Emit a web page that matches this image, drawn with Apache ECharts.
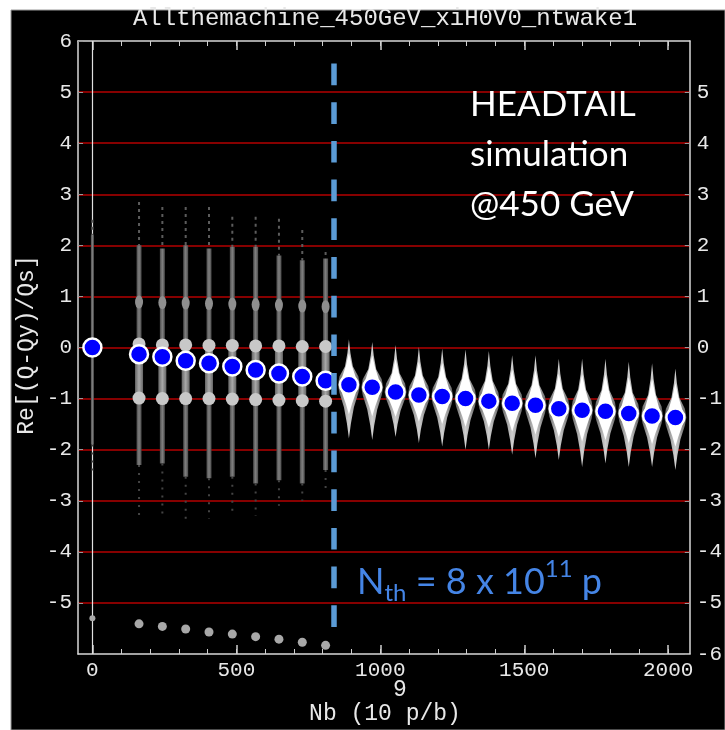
<!DOCTYPE html>
<html><head><meta charset="utf-8">
<script src="https://cdn.jsdelivr.net/npm/echarts@6/dist/echarts.min.js"></script>
<style>html,body{margin:0;padding:0;background:#fff}#c{width:725px;height:730px}</style>
</head><body><div id="c"></div>
<script>
// ---- data ----
const blueX = [0,162,243,324,405,486,567,648,729,810,891,972,1053,1134,1215,1296,1377,1458,1539,1620,1701,1782,1863,1944,2025];
const blueY = [0,-0.13,-0.18,-0.26,-0.31,-0.37,-0.44,-0.51,-0.57,-0.65,-0.73,-0.78,-0.87,-0.93,-0.96,-1.0,-1.05,-1.09,-1.13,-1.2,-1.23,-1.25,-1.29,-1.34,-1.37];

const streakX          = [0,162,243,324,405,486,567,648,729,810];
const streakFaintTop   = [2.5,2.85,2.75,2.75,2.75,2.56,2.56,2.52,2.3,1.87];
const streakDenseTop   = [2.2,2.0,1.94,2.0,1.94,1.97,1.97,1.8,1.71,1.74];
const streakDenseBot   = [-1.9,-2.3,-2.27,-2.53,-2.56,-2.53,-2.66,-2.6,-2.66,-2.4];
const streakFaintBot   = [-2.45,-3.35,-3.35,-3.4,-3.35,-3.3,-3.3,-3.1,-3.0,-2.8];

const blobX        = [162,243,324,405,486,567,648,729,810];
const blobUpper    = [0.89,0.88,0.87,0.86,0.85,0.84,0.83,0.81,0.8];
const blobZero     = [0.07,0.05,0.05,0.04,0.04,0.03,0.03,0.02,0.02];
const blobMinusOne = [-0.99,-1.0,-1.0,-1.0,-1.01,-1.02,-1.03,-1.04,-1.05];

const tailX = [0,162,243,324,405,486,567,648,729,810];
const tailY = [-5.3,-5.41,-5.46,-5.51,-5.57,-5.61,-5.66,-5.71,-5.77,-5.83];

const spX      = [891,972,1053,1134,1215,1296,1377,1458,1539,1620,1701,1782,1863,1944,2025];
const spTop    = [0.16,0.11,0.05,0.01,-0.02,-0.04,-0.07,-0.15,-0.15,-0.22,-0.22,-0.22,-0.28,-0.31,-0.41];
const spBottom = [-1.78,-1.81,-1.75,-1.87,-1.94,-2.0,-2.0,-2.1,-2.17,-2.2,-2.34,-2.27,-2.34,-2.34,-2.4];

const threshold = 840;
const xLabelTicks = [0,500,1000,1500,2000];
const xMinorTicks = [0,100,200,300,400,500,600,700,800,900,1000,1100,1200,1300,1400,1500,1600,1700,1800,1900,2000];

// ---- build ----
const streakData = streakX.map((x,i)=>[x,streakFaintTop[i],streakDenseTop[i],streakDenseBot[i],streakFaintBot[i]]);
const spData = spX.map((x,i)=>[x,spTop[i],spBottom[i],blueY[blueX.indexOf(x)]]);
const blueData = blueX.map((x,i)=>[x,blueY[i]]);
const tailData = tailX.map((x,i)=>[x,tailY[i]]);
const bandData = blobX.map((x,i)=>[x,blobZero[i],blobMinusOne[i]]);
const blobData = [];
blobX.forEach((x,i)=>{ blobData.push([x,blobZero[i]]); blobData.push([x,blobMinusOne[i]]); });
const bulgeData = blobX.map((x,i)=>[x,blobUpper[i]]);

const MONO = 'Liberation Mono';
const TXT = '#e8e8e8';

function renderStreak(params, api){
  const x = api.value(0);
  const a = api.coord([x, api.value(1)]), b = api.coord([x, api.value(2)]),
        c = api.coord([x, api.value(3)]), d = api.coord([x, api.value(4)]);
  const w = params.dataIndex === 0 ? 3 : 5;
  return {type:'group', children:[
    {type:'line', shape:{x1:a[0],y1:a[1],x2:b[0],y2:b[1]}, style:{stroke:'#5c5c5c', lineWidth:2, lineDash:[3,4]}},
    {type:'rect', shape:{x:b[0]-w/2, y:b[1], width:w, height:c[1]-b[1]},
     style:{fill:{type:'linear',x:0,y:0,x2:1,y2:0,colorStops:[{offset:0,color:'#4a4a4a'},{offset:0.5,color:'#808080'},{offset:1,color:'#4a4a4a'}]}}},
    {type:'line', shape:{x1:c[0],y1:c[1],x2:d[0],y2:d[1]}, style:{stroke:'#444', lineWidth:2, lineDash:[2,6]}}
  ]};
}
function renderBand(params, api){
  const x = api.value(0);
  const a = api.coord([x, api.value(1)]), b = api.coord([x, api.value(2)]);
  return {type:'rect', shape:{x:a[0]-4, y:a[1], width:8, height:b[1]-a[1]},
    style:{fill:{type:'linear',x:0,y:0,x2:1,y2:0,colorStops:[{offset:0,color:'#666'},{offset:0.5,color:'#a8a8a8'},{offset:1,color:'#666'}]}}};
}
function renderSpindle(params, api){
  const x = api.value(0);
  const t = api.coord([x, api.value(1)]), bt = api.coord([x, api.value(2)]), cc = api.coord([x, api.value(3)]);
  const cx = t[0], up = cc[1]-t[1], dn = bt[1]-cc[1], hw = 11;
  const half = [[0,t[1]],[1.5,t[1]+up*0.3],[4,t[1]+up*0.6],[hw-1.5,cc[1]-up*0.18],[hw,cc[1]],[hw-1.5,cc[1]+dn*0.15],[5,cc[1]+dn*0.42],[2,cc[1]+dn*0.72],[0,bt[1]]];
  const pts = half.map(p=>[cx+p[0],p[1]]).concat(half.slice(1,-1).reverse().map(p=>[cx-p[0],p[1]]));
  const ih = [[0,cc[1]-up*0.7],[3,cc[1]-up*0.42],[7.5,cc[1]-up*0.12],[8,cc[1]],[7.5,cc[1]+dn*0.12],[3,cc[1]+dn*0.36],[0,cc[1]+dn*0.55]];
  const ipts = ih.map(p=>[cx+p[0],p[1]]).concat(ih.slice(1,-1).reverse().map(p=>[cx-p[0],p[1]]));
  return {type:'group', children:[
    {type:'polygon', shape:{points:pts}, style:{fill:{type:'linear',x:0,y:0,x2:1,y2:0,colorStops:[{offset:0,color:'#5c5c5c'},{offset:0.3,color:'#a8a8a8'},{offset:0.5,color:'#cfcfcf'},{offset:0.7,color:'#a8a8a8'},{offset:1,color:'#5c5c5c'}]}}},
    {type:'polygon', shape:{points:ipts}, style:{fill:'#ffffff'}}
  ]};
}

function xAxisDef(pos, ticks, len, showLabel, showLine){
  return {type:'value', min:-50, max:2075, position:pos,
    axisLine:{show:showLine, onZero:false, lineStyle:{color:'#d8d8d8', width:1.5}},
    axisTick:{show:true, inside:true, length:len, customValues:ticks, lineStyle:{color:'#cfcfcf', width:len>6?1.5:1}},
    axisLabel:{show:showLabel, customValues:xLabelTicks, formatter:(v)=>String(v), color:TXT, fontFamily:MONO, fontSize:21, margin:6},
    splitLine:{show:false}};
}

const chart = echarts.init(document.getElementById('c'), null, {renderer:'canvas'});

// measure text for threshold label
const mctx = document.createElement('canvas').getContext('2d');
function tw(str, size){ mctx.font = size+'px Lato'; return mctx.measureText(str).width; }
const nthParts = [['N',36,0],['th',24,11],[' = 8 x 10',36,0],['11',24,-13],[' p',36,0]];
let nx = 357; const nthEls = [];
nthParts.forEach(p=>{ nthEls.push({type:'text', x:nx, y:582+p[2], z:100, style:{text:p[0], font:p[1]+'px Lato', fill:'#4585e6', verticalAlign:'middle', align:'left'}}); nx += tw(p[0],p[1]); });

const option = {
  animation:false,
  backgroundColor:'#ffffff',
  grid:{left:78, right:34, top:41, bottom:76},
  xAxis:[
    xAxisDef('bottom', xMinorTicks, 5, true, true),
    xAxisDef('bottom', xLabelTicks, 9, false, false),
    xAxisDef('top', xMinorTicks, 5, false, true),
    xAxisDef('top', xLabelTicks, 9, false, false)
  ],
  yAxis:[
    {type:'value', min:-6, max:6, interval:1, position:'left',
     axisLine:{show:true, onZero:false, lineStyle:{color:'#d8d8d8', width:1.5}},
     axisTick:{show:true, inside:true, length:5, lineStyle:{color:'#999'}},
     axisLabel:{color:TXT, fontFamily:MONO, fontSize:21, margin:6, showMinLabel:false},
     splitLine:{show:true, showMinLine:false, showMaxLine:false, lineStyle:{color:'#b40000', width:1.5}}},
    {type:'value', min:-6, max:6, interval:1, position:'right',
     axisLine:{show:true, onZero:false, lineStyle:{color:'#d8d8d8', width:1.5}},
     axisTick:{show:true, inside:true, length:5, lineStyle:{color:'#999'}},
     axisLabel:{color:TXT, fontFamily:MONO, fontSize:21, margin:7, showMaxLabel:false},
     splitLine:{show:false}}
  ],
  graphic:{elements:[
    {type:'rect', shape:{x:11, y:10, width:714, height:720}, z:-100, style:{fill:'#000', stroke:'#999', lineWidth:1}},
    {type:'text', x:385, y:19, z:100, style:{text:'Allthemachine_450GeV_xiH0V0_ntwake1', font:'24px "Liberation Mono"', fill:TXT, align:'center', verticalAlign:'middle'}},
    {type:'text', x:27, y:345, rotation:Math.PI/2, z:100, style:{text:'Re[(Q-Qy)/Qs]', font:'23px "Liberation Mono"', fill:TXT, align:'center', verticalAlign:'middle'}},
    {type:'text', x:400, y:690, z:100, style:{text:'9', font:'23px "Liberation Mono"', fill:TXT, align:'center', verticalAlign:'middle'}},
    {type:'text', x:385, y:714, z:100, style:{text:'Nb (10 p/b)', font:'23px "Liberation Mono"', fill:TXT, align:'center', verticalAlign:'middle'}},
    {type:'text', x:470, y:80, z:100, style:{text:'HEADTAIL\nsimulation\n@450 GeV', font:'35px Lato', lineHeight:50, fill:'#ffffff', align:'left', verticalAlign:'top'}}
  ].concat(nthEls)},
  series:[
    {type:'custom', name:'streaks', renderItem:renderStreak, data:streakData, encode:{x:0,y:1}, z:2, silent:true},
    {type:'custom', name:'bands', renderItem:renderBand, data:bandData, encode:{x:0,y:1}, z:3, silent:true},
    {type:'scatter', name:'bulges', data:bulgeData, symbol:'circle', symbolSize:[8,13], itemStyle:{color:'#8e8e8e', opacity:1}, z:3, silent:true},
    {type:'scatter', name:'blobs', data:blobData, symbol:'circle', symbolSize:13, itemStyle:{color:'#c8c8c8', opacity:1}, z:4, silent:true},
    {type:'custom', name:'spindles', renderItem:renderSpindle, data:spData, encode:{x:0,y:1}, z:4, silent:true},
    {type:'scatter', name:'tail', data:tailData, symbol:'circle', symbolSize:(v,p)=>p.dataIndex===0?6:9, itemStyle:{color:'#a8a8a8', opacity:1}, z:4, silent:true,
     markLine:{silent:true, symbol:'none', label:{show:false}, z:1, lineStyle:{color:'#e0e0e0', width:1.2, type:'solid'},
       data:[[{coord:[0,6]},{coord:[0,-6]}]]}},
    {type:'scatter', name:'mean', data:blueData, symbol:'circle', symbolSize:18, itemStyle:{color:'#0000ff', borderColor:'#ffffff', borderWidth:2.5, opacity:1}, z:6, silent:true,
     markLine:{silent:true, symbol:'none', label:{show:false}, z:10,
       lineStyle:{color:'#5b9bd5', width:5.5, type:[21.7,17], cap:'butt'},
       data:[[{coord:[threshold,5.56]},{coord:[threshold,-5.47]}]]}}
  ]
};
chart.setOption(option);
</script>
</body></html>
